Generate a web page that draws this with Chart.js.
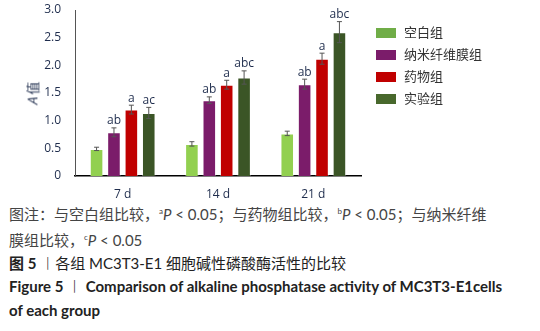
<!DOCTYPE html>
<html>
<head>
<meta charset="utf-8">
<script src="https://cdn.jsdelivr.net/npm/chart.js@4.4.0/dist/chart.umd.min.js"></script>
<style>
  body { margin: 0; background: #fff; width: 540px; height: 331px; overflow: hidden; position: relative; }
  #chartBox { position: absolute; left: 0; top: 0; width: 540px; height: 200px; }
  #yTitle { position: absolute; left: 20px; top: 84px; transform: rotate(-90deg); font: 13px "Noto Sans CJK SC", sans-serif; color: #1f2d4d; white-space: nowrap; }
  #legend { position: absolute; left: 376px; top: 23px; font: 13px "Noto Sans CJK SC", sans-serif; color: #333; }
  #legend div { height: 22px; line-height: 17px; }
  #legend span.sw { display: inline-block; width: 20px; height: 10px; margin-right: 8px; vertical-align: -1px; }
  #caption { position: absolute; left: 9px; top: 200px; width: 535px; font-family: Lato, "Noto Sans CJK SC", sans-serif; }
  .note { font-size: 15px; color: #444; line-height: 23px; }
  .note sup { font-size: 8px; }
  .t1 { font-size: 15px; color: #222; line-height: 24px; margin-top: -1px; }
  .t2 { font-size: 15px; color: #222; font-weight: bold; line-height: 24px; margin-top: -1px; }
</style>
</head>
<body>
<div id="chartBox"><canvas id="myChart"></canvas></div>
<div id="yTitle"><i>A</i> 值</div>
<div id="legend"></div>
<div id="caption">
  <div class="note">图注：与空白组比较，<sup>a</sup><i>P</i> &lt; 0.05；与药物组比较，<sup>b</sup><i>P</i> &lt; 0.05；与纳米纤维<br>膜组比较，<sup>c</sup><i>P</i> &lt; 0.05</div>
  <div class="t1"><b>图 5</b> ︱各组 MC3T3-E1 细胞碱性磷酸酶活性的比较</div>
  <div class="t2">Figure 5 ︱ Comparison of alkaline phosphatase activity of MC3T3-E1cells<br>of each group</div>
</div>
<script>
var categories = ['7 d', '14 d', '21 d'];
var groupNames = ['空白组', '纳米纤维膜组', '药物组', '实验组'];
var blankValues = [0.49, 0.58, 0.77];
var membraneValues = [0.79, 1.37, 1.66];
var drugValues = [1.20, 1.65, 2.12];
var experimentValues = [1.14, 1.78, 2.60];
var blankErr = [0.03, 0.04, 0.04];
var membraneErr = [0.08, 0.06, 0.09];
var drugErr = [0.08, 0.08, 0.10];
var experimentErr = [0.10, 0.12, 0.19];
var blankMarks = ['', '', ''];
var membraneMarks = ['ab', 'ab', 'ab'];
var drugMarks = ['a', 'a', 'a'];
var experimentMarks = ['ac', 'abc', 'abc'];
var yTicks = [0, 0.5, 1.0, 1.5, 2.0, 2.5, 3.0];

var barColors = ['#92d050', '#7b1c6a', '#c00000', '#3b5526'];
var legendColors = ['#70ad47', '#7b1c6a', '#c00000', '#48682c'];

var legend = document.getElementById('legend');
groupNames.forEach(function (name, i) {
    var row = document.createElement('div');
    row.innerHTML = '<span class="sw" style="background:' + legendColors[i] + '"></span>' + name;
    legend.appendChild(row);
});

var errorBars = {
    id: 'errorBars',
    afterDatasetsDraw: function (chart) {
        var ctx = chart.ctx;
        var y = chart.scales.y;
        chart.data.datasets.forEach(function (ds, di) {
            var meta = chart.getDatasetMeta(di);
            meta.data.forEach(function (bar, i) {
                var v = ds.data[i];
                var e = ds.errors[i];
                var top = y.getPixelForValue(v + e);
                var bot = y.getPixelForValue(v - e);
                ctx.save();
                ctx.strokeStyle = '#555';
                ctx.lineWidth = 1;
                ctx.beginPath();
                ctx.moveTo(bar.x, top); ctx.lineTo(bar.x, bot);
                ctx.moveTo(bar.x - 2.5, top); ctx.lineTo(bar.x + 2.5, top);
                ctx.moveTo(bar.x - 2.5, bot); ctx.lineTo(bar.x + 2.5, bot);
                ctx.stroke();
                if (ds.marks[i]) {
                    ctx.fillStyle = '#1f2d4d';
                    ctx.font = '12px "Open Sans", sans-serif';
                    ctx.textAlign = 'center';
                    ctx.textBaseline = 'bottom';
                    ctx.fillText(ds.marks[i], bar.x, top - 1);
                }
                ctx.restore();
            });
        });
    }
};

var ctx = document.getElementById('myChart').getContext('2d');

function makeSet(i, values, errs, marks) {
    return {
        label: groupNames[i],
        data: values,
        errors: errs,
        marks: marks,
        backgroundColor: barColors[i],
        borderColor: 'rgba(255,255,255,0.35)',
        borderWidth: 1,
        barPercentage: 0.78,
        categoryPercentage: 0.73
    };
}

new Chart(ctx, {
    type: 'bar',
    data: {
        labels: categories,
        datasets: [
            makeSet(0, blankValues, blankErr, blankMarks),
            makeSet(1, membraneValues, membraneErr, membraneMarks),
            makeSet(2, drugValues, drugErr, drugMarks),
            makeSet(3, experimentValues, experimentErr, experimentMarks)
        ]
    },
    options: {
        responsive: true,
        maintainAspectRatio: false,
        animation: false,
        layout: { padding: { left: 0, top: 10, right: 179, bottom: 0 } },
        scales: {
            x: {
                grid: { display: false },
                border: { color: '#000', width: 1.5 },
                ticks: { color: '#1f2d4d', font: { size: 12, family: '"Open Sans", sans-serif' }, padding: 3 },
                afterFit: function (s) { s.height = 24; s.paddingLeft = 0; s.paddingRight = 0; }
            },
            y: {
                min: 0,
                max: 3,
                afterBuildTicks: function (s) { s.ticks = yTicks.map(function (v) { return { value: v }; }); },
                grid: { display: false },
                border: { color: '#555', width: 1 },
                ticks: {
                    color: '#1f2d4d',
                    font: { size: 12, family: '"Open Sans", sans-serif' },
                    padding: 6,
                    callback: function (value) { return value === 0 ? '0' : value.toFixed(1); }
                },
                afterFit: function (s) { s.width = 75; s.paddingTop = 0; s.paddingBottom = 0; }
            }
        },
        plugins: {
            legend: { display: false },
            tooltip: { enabled: false }
        }
    },
    plugins: [errorBars]
});
</script>
</body>
</html>
